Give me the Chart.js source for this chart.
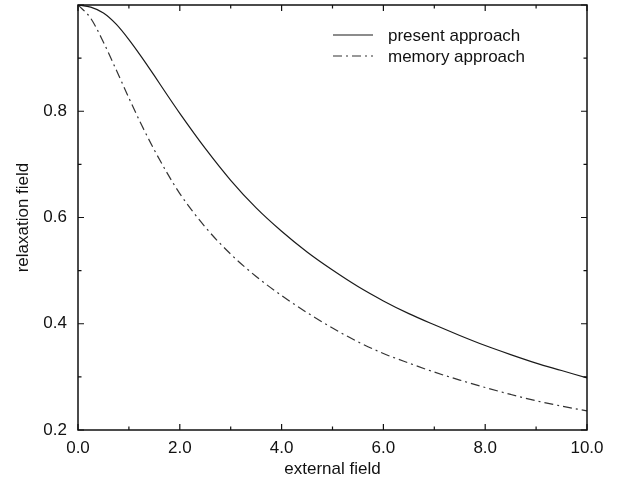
<!DOCTYPE html>
<html><head><meta charset="utf-8">
<script src="https://cdn.jsdelivr.net/npm/chart.js@4/dist/chart.umd.min.js"></script>
<style>html,body{margin:0;padding:0;background:#fff}#wrap{width:621px;height:483px;position:relative}</style>
</head><body><div id="wrap"><canvas id="c"></canvas></div>
<script>
const xValues = [0,0.25,0.5,0.75,1,1.25,1.5,1.75,2,2.5,3,3.5,4,4.5,5,5.5,6,6.5,7,7.5,8,8.5,9,9.5,10];
const presentApproach = [1.0,0.996,0.985,0.964,0.935,0.902,0.867,0.831,0.796,0.730,0.670,0.618,0.574,0.535,0.501,0.470,0.443,0.419,0.398,0.378,0.359,0.342,0.326,0.312,0.298];
const memoryApproach = [1.0,0.975,0.930,0.878,0.825,0.774,0.727,0.684,0.645,0.582,0.531,0.489,0.453,0.421,0.392,0.366,0.344,0.326,0.309,0.294,0.280,0.267,0.255,0.245,0.236];
const seriesNames = ['present approach','memory approach'];
const xTickLabels = ['0.0','2.0','4.0','6.0','8.0','10.0'];
const yTickLabels = ['0.2','0.4','0.6','0.8'];
const xMinorTicks = [0,1,2,3,4,5,6,7,8,9,10];
const yMinorTicks = [0.2,0.3,0.4,0.5,0.6,0.7,0.8,0.9,1.0];
const xTitle = 'external field';
const yTitle = 'relaxation field';

const FONT = 'Liberation Sans, Arial, Helvetica, sans-serif';

const framePlugin = {
  id: 'frameTicks',
  afterDatasetsDraw(chart) {
    const {ctx, chartArea: a, scales: {x, y}} = chart;
    ctx.save();
    ctx.strokeStyle = '#111';
    ctx.lineWidth = 1.5;
    ctx.strokeRect(a.left, a.top, a.right - a.left, a.bottom - a.top);
    ctx.lineWidth = 1.2;
    ctx.beginPath();
    xMinorTicks.forEach((v, i) => {
      const px = x.getPixelForValue(v);
      const len = (i % 2 === 0) ? 6 : 3.5;
      ctx.moveTo(px, a.bottom); ctx.lineTo(px, a.bottom - len);
      ctx.moveTo(px, a.top); ctx.lineTo(px, a.top + len);
    });
    yMinorTicks.forEach((v, i) => {
      const py = y.getPixelForValue(v);
      const len = (i % 2 === 0) ? 6 : 3.5;
      ctx.moveTo(a.left, py); ctx.lineTo(a.left + len, py);
      ctx.moveTo(a.right, py); ctx.lineTo(a.right - len, py);
    });
    ctx.stroke();
    // legend
    const legX0 = 333, legX1 = 373, legTextX = 388, legY = [35, 56];
    chart.data.datasets.forEach((ds, i) => {
      ctx.strokeStyle = ds.borderColor;
      ctx.lineWidth = ds.borderWidth;
      ctx.setLineDash(ds.borderDash || []);
      ctx.beginPath();
      ctx.moveTo(legX0, legY[i]); ctx.lineTo(legX1, legY[i]);
      ctx.stroke();
      ctx.setLineDash([]);
      ctx.fillStyle = '#111';
      ctx.font = '17px ' + FONT;
      ctx.textBaseline = 'middle';
      ctx.textAlign = 'left';
      ctx.fillText(ds.label, legTextX, legY[i] + 1);
    });
    ctx.restore();
  }
};

new Chart(document.getElementById('c'), {
  type: 'line',
  data: {
    datasets: [
      { label: seriesNames[0], data: xValues.map((v, i) => ({x: v, y: presentApproach[i]})),
        borderColor: '#1a1a1a', borderWidth: 1.2, pointRadius: 0, fill: false, cubicInterpolationMode: 'monotone' },
      { label: seriesNames[1], data: xValues.map((v, i) => ({x: v, y: memoryApproach[i]})),
        borderColor: '#333', borderWidth: 1.2, borderDash: [9, 4, 2, 4], pointRadius: 0, fill: false, cubicInterpolationMode: 'monotone' }
    ]
  },
  options: {
    responsive: true,
    maintainAspectRatio: false,
    animation: false,
    devicePixelRatio: 1,
    layout: { padding: { top: 5, right: 34, left: 0, bottom: 0 } },
    plugins: { legend: { display: false }, tooltip: { enabled: false } },
    scales: {
      x: {
        type: 'linear', min: 0, max: 10,
        grid: { display: false, drawTicks: false },
        border: { display: false },
        ticks: { stepSize: 2, padding: 8, color: '#111', font: { family: FONT, size: 17 }, maxRotation: 0,
          callback: (v, i) => xTickLabels[i] ?? null },
        title: { display: true, text: xTitle, color: '#111', font: { family: FONT, size: 17 }, padding: { top: 0, bottom: 3 } },
        afterFit: (s) => { s.height = 53; s.paddingLeft = 0; s.paddingRight = 0; }
      },
      y: {
        type: 'linear', min: 0.2, max: 1.0,
        grid: { display: false, drawTicks: false },
        border: { display: false },
        ticks: { stepSize: 0.2, padding: 11, color: '#111', font: { family: FONT, size: 17 },
          callback: (v, i) => yTickLabels[i] ?? null },
        title: { display: true, text: yTitle, color: '#111', font: { family: FONT, size: 17 }, padding: { top: 13, bottom: 0 } },
        afterFit: (s) => { s.width = 78; s.paddingTop = 0; s.paddingBottom = 0; }
      }
    }
  },
  plugins: [framePlugin]
});
</script>
</body></html>
